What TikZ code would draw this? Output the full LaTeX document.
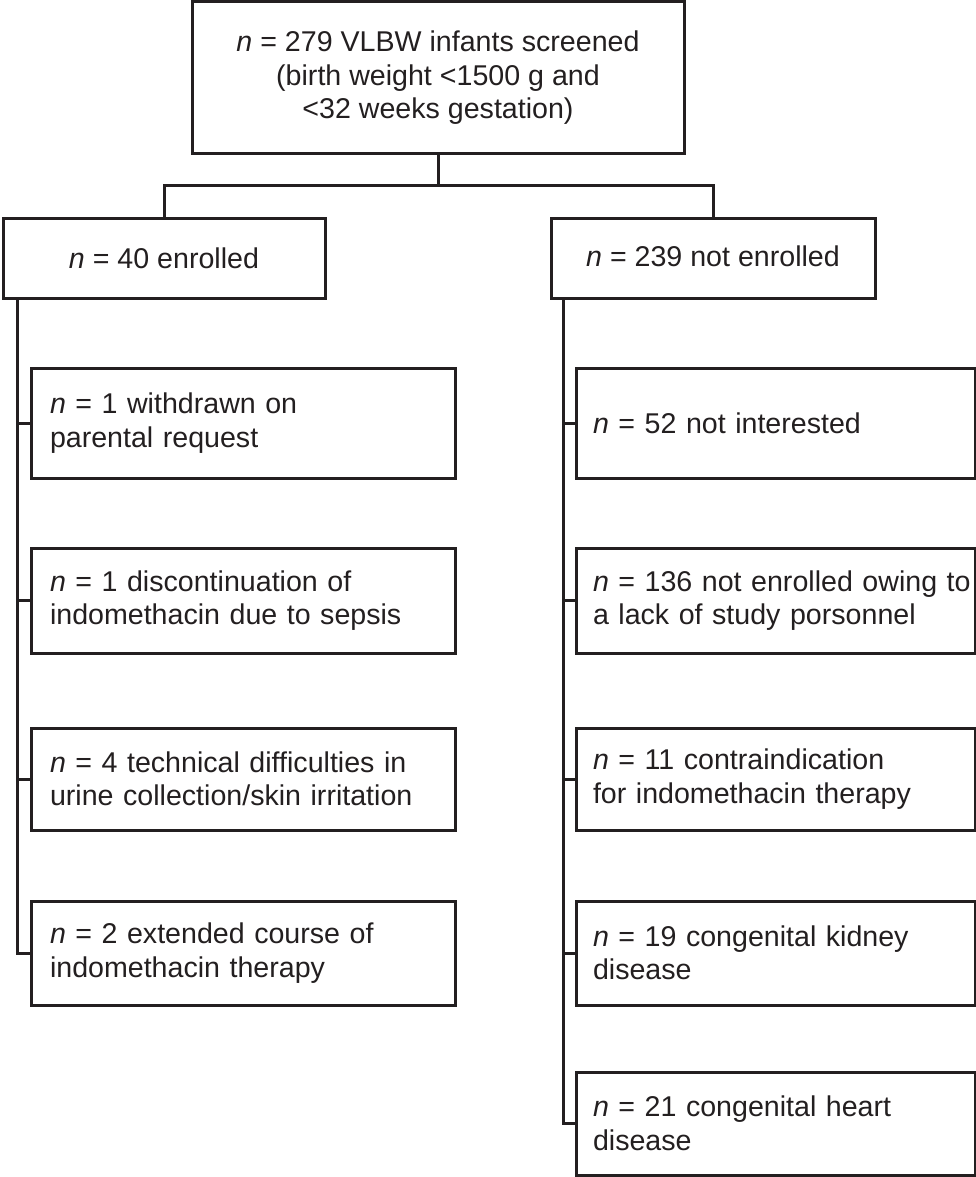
\documentclass[tikz,border=0pt]{standalone}
\usepackage{fontspec}
\setmainfont{Liberation Sans}
\definecolor{ink}{HTML}{231F20}
\begin{document}
\begin{tikzpicture}[x=1pt,y=-1pt,
  every node/.style={font=\fontsize{28.6}{33.5}\selectfont, text=ink},
  box/.style={draw=ink, line width=3pt, rectangle, inner ysep=0pt},
  ctr/.style={box, align=center, inner xsep=0pt},
  lbox/.style={box, text width=386pt, inner xsep=19pt, align=left, minimum width=424pt, anchor=center},
  rbox/.style={box, text width=365pt, inner xsep=17pt, align=left, minimum width=399pt, anchor=center},
  conn/.style={draw=ink, line width=3pt, line join=miter}]
\useasboundingbox (0,0) rectangle (976,1177);
\fill[white] (0,0) rectangle (976,1177);

\node[ctr, minimum width=492pt, minimum height=152pt] (top) at (438,78)
  {\textit{n} = 279 VLBW infants screened\\(birth weight <1500 g and\\<32 weeks gestation)};
\node[ctr, minimum width=322pt, minimum height=80pt] (enr) at (164,258) {\textit{n} = 40 enrolled};
\node[ctr, minimum width=324pt, minimum height=80pt] (nen) at (713,258) {\raisebox{3pt}{\textit{n} = 239 not enrolled}};

\node[lbox, minimum height=110pt] (l1) at (243,423) {\mbox{\textit{n} = 1 withdrawn on}\\\mbox{parental request}};
\node[lbox, minimum height=105pt] (l2) at (243,600.5) {\mbox{\textit{n} = 1 discontinuation of}\\\mbox{indomethacin due to sepsis}};
\node[lbox, minimum height=102pt] (l3) at (243,779) {\mbox{\textit{n} = 4 technical difficulties in}\\\mbox{urine collection/skin irritation}};
\node[lbox, minimum height=104pt] (l4) at (243,953) {\mbox{\textit{n} = 2 extended course of}\\\mbox{indomethacin therapy}};

\node[rbox, minimum height=110pt] (r1) at (775.5,423) {\mbox{\textit{n} = 52 not interested}};
\node[rbox, minimum height=105pt] (r2) at (775.5,600.5) {\mbox{\textit{n} = 136 not enrolled owing to}\\\mbox{a lack of study porsonnel}};
\node[rbox, minimum height=102pt] (r3) at (775.5,779) {\mbox{\textit{n} = 11 contraindication}\\\mbox{for indomethacin therapy}};
\node[rbox, minimum height=104pt] (r4) at (775.5,953) {\mbox{\textit{n} = 19 congenital kidney}\\\mbox{disease}};
\node[rbox, minimum height=103pt] (r5) at (775.5,1123.5) {\mbox{\textit{n} = 21 congenital heart}\\\mbox{disease}};

\coordinate (hb) at (0,186);
\coordinate (lsp) at (17,0);
\coordinate (rsp) at (563,0);

\draw[conn] (top.south) -- (top.south |- hb);
\draw[conn] (enr.north) |- (hb -| top.south) -| (nen.north);

\draw[conn] (enr.south -| lsp) |- (l4.west);
\foreach \b in {l1,l2,l3} \draw[conn] (lsp |- \b.west) -- (\b.west);

\draw[conn] (nen.south -| rsp) |- (r5.west);
\foreach \b in {r1,r2,r3,r4} \draw[conn] (rsp |- \b.west) -- (\b.west);
\end{tikzpicture}
\end{document}
